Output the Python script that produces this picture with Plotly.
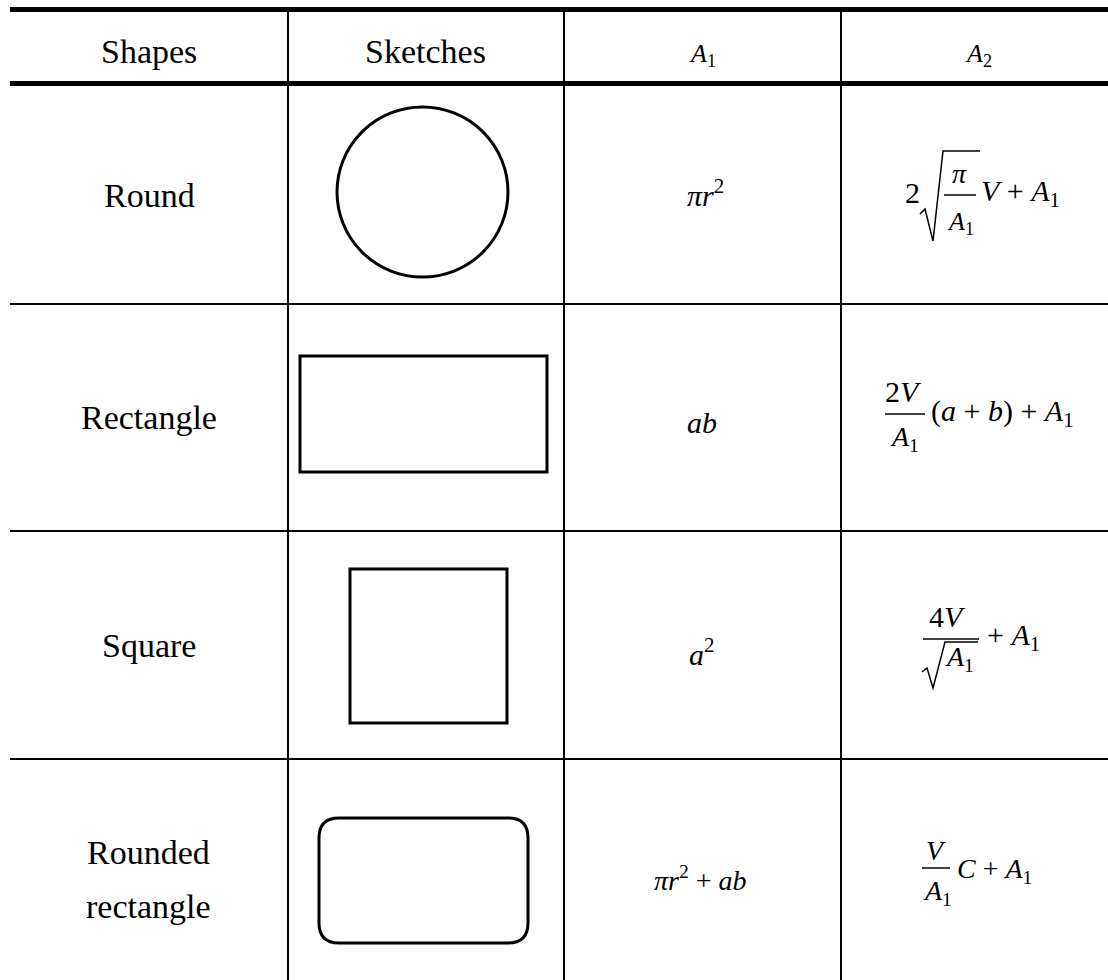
import plotly.graph_objects as go

# 表格内容
header_labels = ["Shapes", "Sketches", "<i>A</i><sub>1</sub>", "<i>A</i><sub>2</sub>"]
shape_names = ["Round", "Rectangle", "Square", "Rounded<br>rectangle"]
sketch_kinds = ["circle", "rect", "square", "rounded"]
a1_formulas = [
    "<i>πr</i><sup>2</sup>",
    "<i>ab</i>",
    "<i>a</i><sup>2</sup>",
    "<i>πr</i><sup>2</sup> + <i>ab</i>",
]
# A2 = 分子 / 分母 + 尾部
a2_numerators = ["<i>π</i>", "2<i>V</i>", "4<i>V</i>", "<i>V</i>"]
a2_denominators = ["<i>A</i><sub>1</sub>"] * 4
a2_tails = [
    "<i>V</i> + <i>A</i><sub>1</sub>",
    "(<i>a</i> + <i>b</i>) + <i>A</i><sub>1</sub>",
    "+ <i>A</i><sub>1</sub>",
    "<i>C</i> + <i>A</i><sub>1</sub>",
]

W, H = 1108, 980
TEXT_FONT = "Liberation Serif"
MATH_FONT = "Liberation Serif"

col_x = [10, 288, 564, 841, W]
row_y = [86, 304, 531, 759, 980]
col_c = [149, 425, 703, 976]

fig = go.Figure()


def text(x, y, s, size=34, xanchor="center"):
    fig.add_annotation(x=x, y=y, text=s, showarrow=False, xanchor=xanchor,
                       yanchor="middle", font=dict(family=TEXT_FONT, size=size, color="black"))


def math(x, base, s, size=30, xanchor="center"):
    # y 以基线为准
    fig.add_annotation(x=x, y=base - 0.34 * size, text=s, showarrow=False, xanchor=xanchor,
                       yanchor="middle", font=dict(family=MATH_FONT, size=size, color="black"))


def hline(y, x0, x1, w):
    fig.add_shape(type="line", x0=x0, x1=x1, y0=y, y1=y, line=dict(color="black", width=w))


def vline(x, y0, y1, w):
    fig.add_shape(type="line", x0=x, x1=x, y0=y0, y1=y1, line=dict(color="black", width=w))


# 表格线
hline(9.5, 10, W, 5)
hline(83.5, 10, W, 5)
for y in row_y[1:4]:
    hline(y, 10, W, 2)
for x in col_x[1:4]:
    vline(x, 9.5, H, 2)

# 表头
text(col_c[0], 51, header_labels[0])
text(col_c[1], 51, header_labels[1])
math(702, 64, header_labels[2], 26)
math(978, 64, header_labels[3], 26)

# 第一列
name_y = [195, 417, 645]
for i in range(3):
    text(col_c[0], name_y[i], shape_names[i])
for line_txt, y in zip(shape_names[3].split("<br>"), [852, 906]):
    text(148, y, line_txt)

# 草图
sk = dict(color="black", width=3)
for kind in sketch_kinds:
    if kind == "circle":
        fig.add_shape(type="circle", x0=337, x1=508, y0=107, y1=277, line=sk)
    elif kind == "rect":
        fig.add_shape(type="rect", x0=300, x1=547, y0=356, y1=472, line=sk)
    elif kind == "square":
        fig.add_shape(type="rect", x0=350, x1=507, y0=569, y1=723, line=sk)
    else:
        x0, x1, y0, y1, r = 319, 528, 818, 943, 20
        path = (f"M {x0+r},{y0} L {x1-r},{y0} Q {x1},{y0} {x1},{y0+r} "
                f"L {x1},{y1-r} Q {x1},{y1} {x1-r},{y1} L {x0+r},{y1} "
                f"Q {x0},{y1} {x0},{y1-r} L {x0},{y0+r} Q {x0},{y0} {x0+r},{y0} Z")
        fig.add_shape(type="path", path=path, line=sk)

# A1 列
a1_base = [203, 433, 662, 888]
a1_x = [705, 702, 702, 700]
a1_size = [30, 30, 30, 28]
for f, x, b, s in zip(a1_formulas, a1_x, a1_base, a1_size):
    math(x, b, f, s)

# A2 列
thin = dict(color="black", width=1.5)
# 第一行: 2 sqrt(pi/A1) V + A1
math(912, 203, "2", 30)
fig.add_shape(type="path", path="M 920,214 L 925,209 L 933,241 L 943,151 L 980,151", line=thin)
math(959, 183, a2_numerators[0], 28)
hline(195, 944, 976, 1.5)
math(960, 232, a2_denominators[0], 26)
math(979, 203, a2_tails[0], 30, "left")

# 第二行
math(903, 402, a2_numerators[1], 30)
hline(414, 885, 925, 1.5)
math(904, 448, a2_denominators[1], 28)
math(929, 423, a2_tails[1], 30, "left")

# 第三行
math(947, 627, a2_numerators[2], 30)
hline(639, 923, 979, 1.5)
fig.add_shape(type="path", path="M 922,672 L 927,668 L 933,688 L 945,642 L 978,642", line=thin)
math(959, 668, a2_denominators[2], 28)
math(985, 647, a2_tails[2], 30, "left")

# 第四行
math(936, 860, a2_numerators[3], 28)
hline(868, 922, 950, 1.5)
math(937, 902, a2_denominators[3], 28)
math(955, 880, a2_tails[3], 28, "left")

fig.update_xaxes(range=[0, W], visible=False, fixedrange=True)
fig.update_yaxes(range=[H, 0], visible=False, fixedrange=True)
fig.update_layout(
    width=W, height=H,
    margin=dict(l=0, r=0, t=0, b=0),
    font=dict(family=TEXT_FONT, size=30, color="black"),
    plot_bgcolor="white", paper_bgcolor="white",
    showlegend=False,
)

fig.write_html("out.html", config={"displayModeBar": False},
               post_script="document.body.style.margin='0';")
